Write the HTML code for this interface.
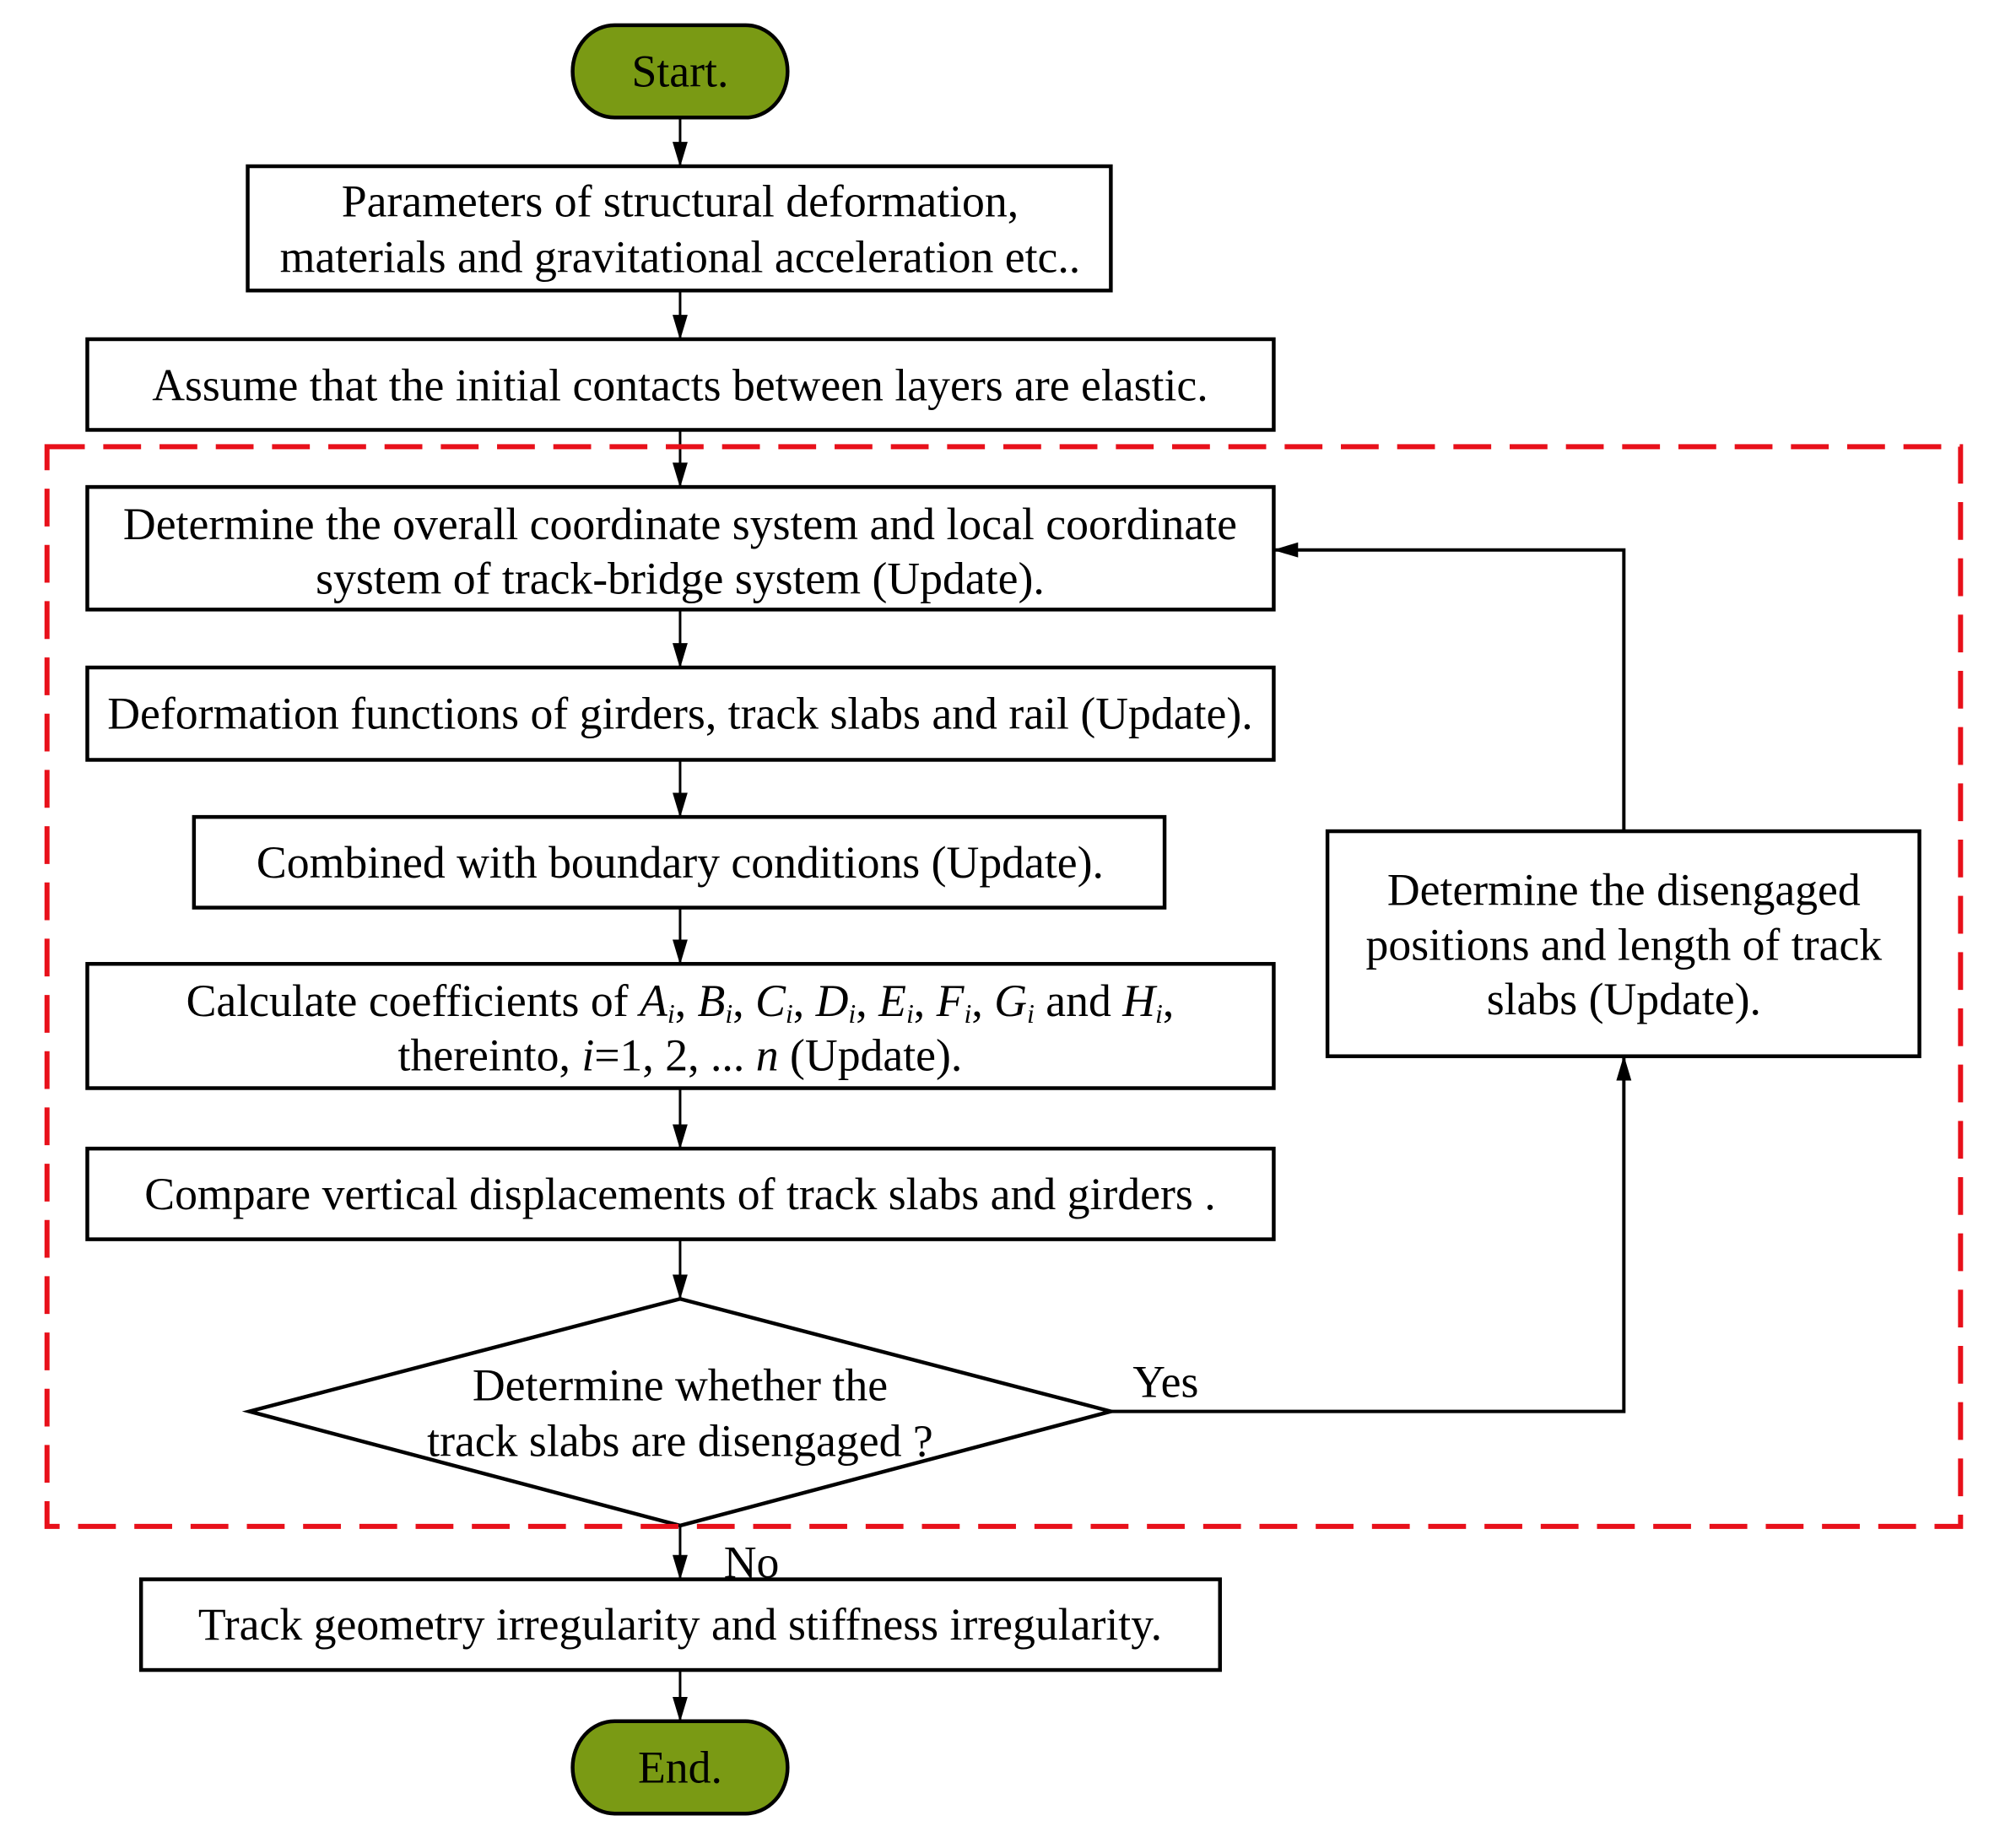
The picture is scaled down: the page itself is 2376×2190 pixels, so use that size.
<!DOCTYPE html>
<html><head><meta charset="utf-8"><style>
body{margin:0;background:#fff}
svg{display:block}
text{font-family:"Liberation Serif",serif;font-size:54px;fill:#000}
</style></head><body>
<svg width="2376" height="2190" viewBox="0 0 2376 2190" xmlns="http://www.w3.org/2000/svg">
<defs>
<marker id="b" markerWidth="30" markerHeight="30" refX="29" refY="15" orient="auto" markerUnits="userSpaceOnUse" viewBox="0 0 30 30"><path d="M0,6 L30,15 L0,24 z" fill="#000"/></marker></defs>
<g transform="scale(0.995)">
<g stroke="#000" stroke-width="4.5" fill="none">
<rect x="682" y="30" width="256" height="110" rx="50" ry="55" fill="#7a9a14"/>
<rect x="295" y="198" width="1028" height="148" fill="#fff"/>
<rect x="104" y="404" width="1413" height="108" fill="#fff"/>
<rect x="104" y="580" width="1413" height="146" fill="#fff"/>
<rect x="104" y="795" width="1413" height="110" fill="#fff"/>
<rect x="231" y="973" width="1156" height="108" fill="#fff"/>
<rect x="104" y="1148" width="1413" height="148" fill="#fff"/>
<rect x="104" y="1368" width="1413" height="108" fill="#fff"/>
<polygon points="810,1547 1323,1681 810,1817 297,1681" fill="#fff"/>
<rect x="1581" y="990" width="705" height="268" fill="#fff"/>
<rect x="168" y="1881" width="1285" height="108" fill="#fff"/>
<rect x="682" y="2050" width="256" height="110" rx="50" ry="55" fill="#7a9a14"/>
<g stroke-width="3" marker-end="url(#b)">
<line x1="810" y1="140" x2="810" y2="198"/>
<line x1="810" y1="346" x2="810" y2="404"/>
<line x1="810" y1="512" x2="810" y2="580"/>
<line x1="810" y1="726" x2="810" y2="795"/>
<line x1="810" y1="905" x2="810" y2="973"/>
<line x1="810" y1="1081" x2="810" y2="1148"/>
<line x1="810" y1="1296" x2="810" y2="1368"/>
<line x1="810" y1="1476" x2="810" y2="1547"/>
<line x1="810" y1="1817" x2="810" y2="1881"/>
<line x1="810" y1="1989" x2="810" y2="2050"/>
</g>
<polyline stroke-width="4" points="1323,1681 1934,1681 1934,1258" marker-end="url(#b)"/>
<polyline stroke-width="4" points="1934,990 1934,655 1517,655" marker-end="url(#b)"/>
</g>
<rect x="56" y="532" width="2279" height="1286" fill="none" stroke="#e8101a" stroke-width="6" stroke-dasharray="45,22"/>
<g text-anchor="middle">
<text x="810" y="258">Parameters of structural deformation,</text>
<text x="810" y="324">materials and gravitational acceleration etc..</text>
<text x="810" y="477">Assume that the initial contacts between layers are elastic.</text>
<text x="810" y="642">Determine the overall coordinate system and local coordinate</text>
<text x="810" y="707">system of track-bridge system (Update).</text>
<text x="810" y="868">Deformation functions of girders, track slabs and rail (Update).</text>
<text x="810" y="1045">Combined with boundary conditions (Update).</text>
<text x="810" y="1210">Calculate coefficients of <tspan font-style="italic">A<tspan font-size="32" dy="8">i</tspan></tspan><tspan dy="-8">, </tspan><tspan font-style="italic">B<tspan font-size="32" dy="8">i</tspan></tspan><tspan dy="-8">, </tspan><tspan font-style="italic">C<tspan font-size="32" dy="8">i</tspan></tspan><tspan dy="-8">, </tspan><tspan font-style="italic">D<tspan font-size="32" dy="8">i</tspan></tspan><tspan dy="-8">, </tspan><tspan font-style="italic">E<tspan font-size="32" dy="8">i</tspan></tspan><tspan dy="-8">, </tspan><tspan font-style="italic">F<tspan font-size="32" dy="8">i</tspan></tspan><tspan dy="-8">, </tspan><tspan font-style="italic">G<tspan font-size="32" dy="8">i</tspan></tspan><tspan dy="-8"> and </tspan><tspan font-style="italic">H<tspan font-size="32" dy="8">i</tspan></tspan><tspan dy="-8">,</tspan></text>
<text x="810" y="1275">thereinto, <tspan font-style="italic">i</tspan>=1, 2, ... <tspan font-style="italic">n</tspan> (Update).</text>
<text x="810" y="1440">Compare vertical displacements of track slabs and girders .</text>
<text x="810" y="1668">Determine whether the</text>
<text x="810" y="1734">track slabs are disengaged ?</text>
<text x="1934" y="1078">Determine the disengaged</text>
<text x="1934" y="1143">positions and length of track</text>
<text x="1934" y="1208">slabs (Update).</text>
<text x="810" y="1953">Track geometry irregularity and stiffness irregularity.</text>
<text x="810" y="103">Start.</text>
<text x="810" y="2123">End.</text>
</g>
<text x="1349" y="1664">Yes</text>
<text x="862" y="1879">No</text>
</g>
</svg>
</body></html>
